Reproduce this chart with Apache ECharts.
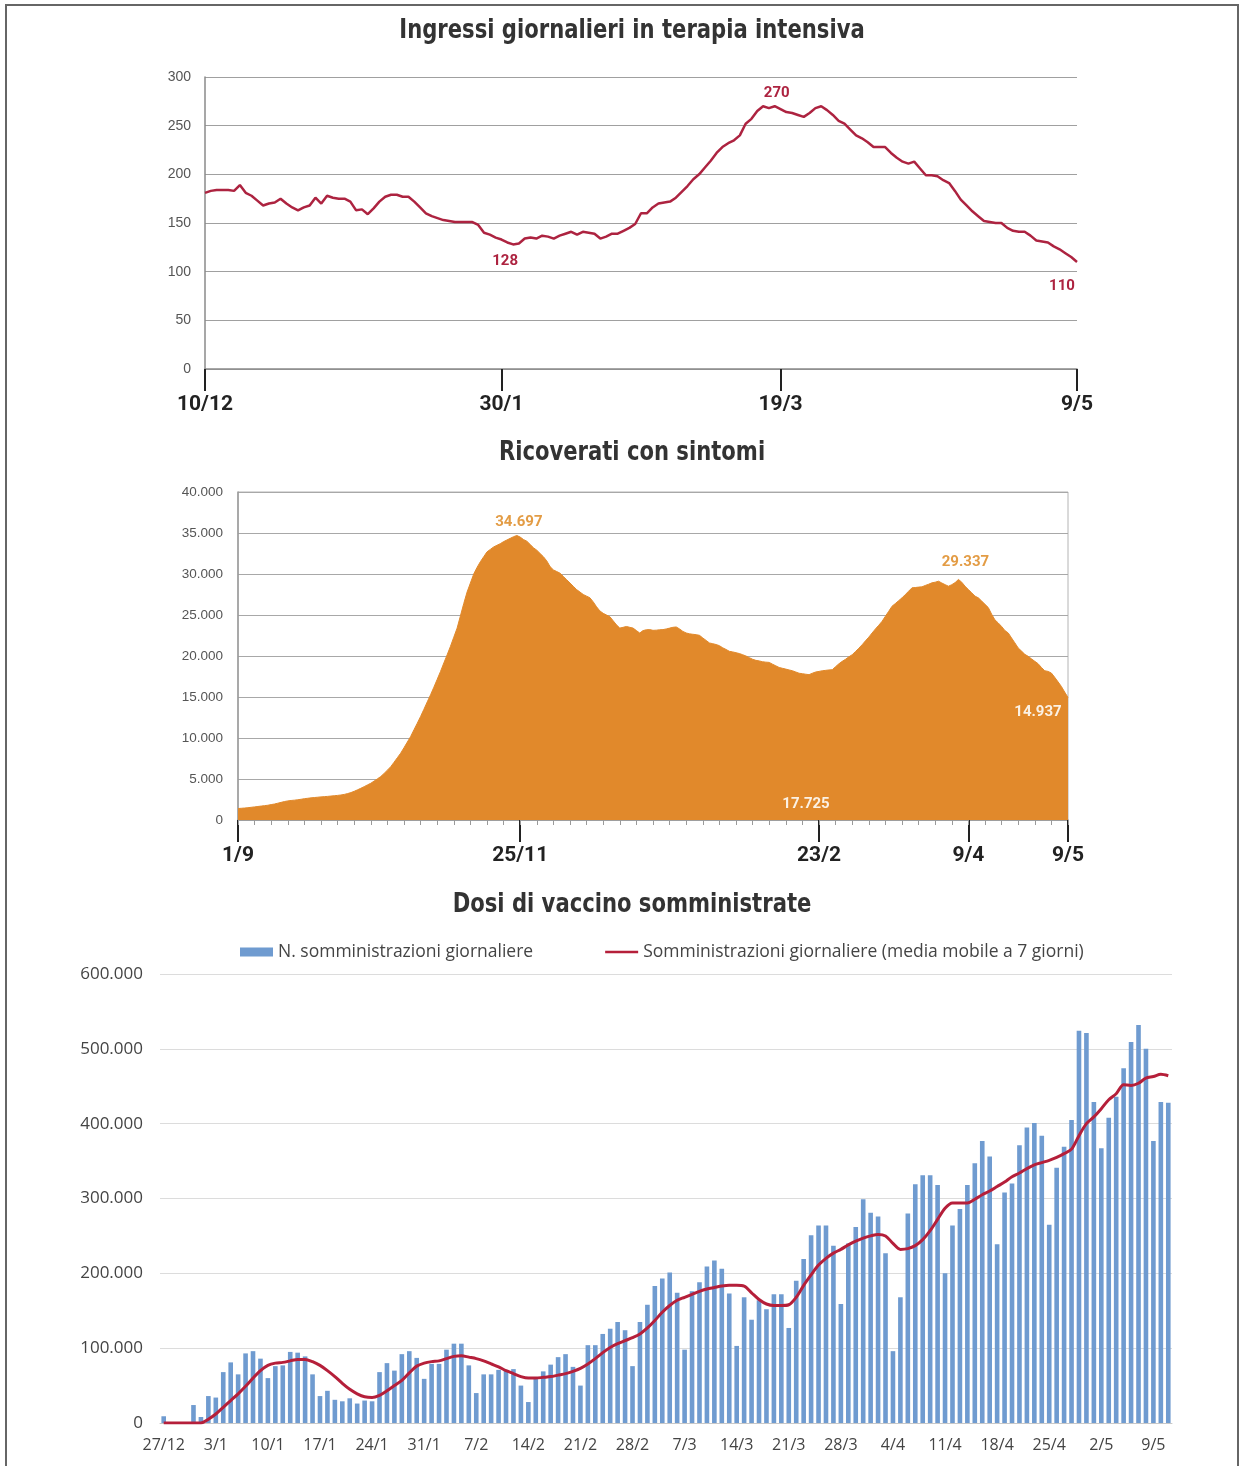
<!DOCTYPE html>
<html><head><meta charset="utf-8">
<script src="https://cdn.jsdelivr.net/npm/echarts@6/dist/echarts.min.js"></script>
<style>
html,body{margin:0;padding:0;background:#fff}
#wrap{position:relative;width:1243px;height:1466px;overflow:hidden}
#frame{position:absolute;left:5px;top:4px;width:1230px;height:1480px;border:2px solid #666}
#c{position:absolute;left:0;top:0;width:1243px;height:1466px}
</style>
</head><body><div id="wrap"><div id="frame"></div><div id="c"></div></div>
<script>
// ---------- Data: Ingressi giornalieri in terapia intensiva (10/12 -> 9/5)
const icuValues = [181,183,184,184,184,183,189,181,178,173,
168,170,171,175,170,166,163,166,168,176,
170,178,176,175,175,172,163,164,159,165,
172,177,179,179,177,177,172,166,160,157,
155,153,152,151,151,151,151,148,140,138,
135,133,130,128,129,134,135,134,137,136,
134,137,139,141,138,141,140,139,134,136,
139,139,142,145,149,160,160,166,170,171,
172,176,182,188,195,200,207,214,222,228,
232,235,240,252,257,265,270,268,270,267,
264,263,261,259,263,268,270,266,261,255,
252,246,240,237,233,228,228,228,222,217,
213,211,213,206,199,199,198,194,191,183,
174,168,162,157,152,151,150,150,145,142,
141,141,137,132,131,130,126,123,119,115,110];
const icuTicks = ['10/12','30/1','19/3','9/5'];
const icuNotes = ['1/2','18/3','9/5'];

// ---------- Data: Ricoverati con sintomi (1/9 -> 9/5)
const hospValues = [1400,1430,1460,1500,1550,1600,1650,1700,1750,1800,
1880,1950,2050,2150,2250,2330,2380,2420,2470,2530,
2600,2650,2700,2740,2780,2820,2850,2880,2920,2960,
3000,3050,3120,3220,3340,3500,3680,3870,4070,4280,
4480,4750,5020,5300,5680,6080,6500,7040,7600,8150,
8820,9500,10180,11000,11800,12630,13500,14400,15270,16200,
17150,18120,19150,20150,21180,22300,23400,24900,26400,27800,
28900,30000,30800,31500,32100,32700,33000,33300,33500,33700,
33950,34150,34350,34550,34697,34500,34200,34000,33600,33200,
32900,32500,32100,31600,30900,30500,30300,30100,29700,29300,
28900,28500,28100,27800,27500,27300,27100,26600,26000,25500,
25200,25000,24800,24300,23800,23400,23500,23600,23500,23400,
23100,22800,23100,23200,23220,23130,23150,23200,23220,23300,
23400,23500,23540,23300,23000,22810,22700,22650,22600,22520,
22200,21900,21590,21500,21400,21260,21000,20800,20570,20500,
20400,20300,20160,20000,19800,19600,19470,19400,19300,19250,
19220,19000,18800,18600,18500,18400,18300,18200,18050,17900,
17840,17780,17725,17900,18050,18120,18200,18250,18300,18330,
18700,19050,19350,19600,19900,20160,20550,20950,21380,21850,
22300,22810,23300,23750,24230,24850,25450,26070,26400,26750,
27090,27500,27900,28310,28350,28400,28430,28600,28750,28920,
29000,29120,28900,28700,28510,28700,28950,29337,29000,28500,
28100,27700,27300,27090,26700,26300,25900,25100,24400,24030,
23600,23100,22810,22200,21600,20980,20600,20200,19960,19650,
19350,19060,18600,18200,18120,17920,17400,16850,16290,15600,
14937];
const hospTicks = ['1/9','25/11','23/2','9/4','9/5'];
const hospNotesTop = ['24/11','6/4'];
const hospNotesIn = ['20/2','9/5'];

// ---------- Data: Dosi di vaccino somministrate (27/12 -> 11/5)
const dosesDaily = [9000,0,0,0,24000,8000,36000,34000,68000,81000,
65000,93000,96000,86000,60000,76000,77000,95000,94000,89000,
65000,36000,43000,31000,29000,33000,26000,30000,29000,68000,
80000,70000,92000,96000,87000,59000,79000,79000,98000,106000,
106000,77000,40000,65000,65000,71000,71000,72000,50000,28000,
59000,69000,78000,88000,92000,75000,50000,104000,104000,119000,
126000,135000,124000,76000,135000,158000,183000,193000,201000,174000,
98000,176000,188000,209000,217000,206000,173000,103000,168000,138000,
164000,152000,172000,172000,127000,190000,219000,251000,264000,264000,
237000,159000,240000,262000,299000,281000,276000,227000,96000,168000,
280000,319000,331000,331000,318000,200000,264000,286000,318000,347000,
377000,356000,239000,308000,320000,371000,395000,401000,384000,265000,
341000,369000,405000,524000,521000,429000,367000,408000,436000,474000,
509000,532000,500000,377000,429000,428000];
const dosesAvg = [0,0,0,0,0,0,5000,12000,21000,30000,
39000,49000,60000,70000,77000,80000,81000,83000,85000,85000,
82000,77000,70000,62000,53000,45000,39000,35000,34000,37000,
43000,50000,57000,67000,76000,80000,82000,83000,86000,89000,
90000,88000,86000,83000,79000,75000,70000,66000,62000,60000,
60000,61000,62000,64000,66000,69000,73000,79000,86000,94000,
101000,106000,110000,114000,119000,127000,137000,148000,157000,164000,
168000,172000,176000,179000,181000,183000,184000,184000,183000,174000,
165000,159000,157000,157000,158000,168000,184000,198000,211000,220000,
227000,232000,238000,243000,247000,250000,252000,250000,240000,232000,
233000,237000,245000,257000,272000,287000,294000,294000,294000,299000,
305000,310000,316000,322000,329000,334000,340000,345000,348000,351000,
355000,360000,366000,384000,400000,409000,420000,432000,440000,452000,
451000,454000,461000,463000,466000,464000];
const dosesTickEvery = 7;

const titles = ['Ingressi giornalieri in terapia intensiva', 'Ricoverati con sintomi', 'Dosi di vaccino somministrate'];
const legendNames = ['N. somministrazioni giornaliere', 'Somministrazioni giornaliere (media mobile a 7 giorni)'];

// ---------- helpers
function dayLabels(y, m, d, n) {
  const out = [];
  for (let i = 0; i < n; i++) {
    const dt = new Date(Date.UTC(y, m - 1, d + i));
    out.push(dt.getUTCDate() + '/' + (dt.getUTCMonth() + 1));
  }
  return out;
}
const itNum = v => String(v).replace(/\B(?=(\d{3})+(?!\d))/g, '.');

const icuDates = dayLabels(2020, 12, 10, icuValues.length);
const hospDates = dayLabels(2020, 9, 1, hospValues.length);
const dosesDates = dayLabels(2020, 12, 27, dosesDaily.length);

const TITLE_FONT = "bold 27px 'Liberation Sans Narrow','DejaVu Sans Condensed',sans-serif";
const BOLD_TICK = { fontSize: 21, fontWeight: 'bold', color: '#222', fontFamily: 'Roboto' };

function note(dates, values, date, label) {
  const i = dates.indexOf(date);
  return { coord: [dates[i], values[i]], value: values[i], label: label };
}
function titleText(text, y) {
  return { type: 'text', x: 632, y: y, scaleX: 0.87, silent: true,
    style: { text: text, font: TITLE_FONT, fill: '#333', align: 'center', verticalAlign: 'middle' } };
}

const icuRed = '#ad2340';
const icuMarks = [
  note(icuDates, icuValues, icuNotes[0], { position: 'inside', offset: [-8, 17] }),
  note(icuDates, icuValues, icuNotes[1], { position: 'inside', offset: [2, -13] }),
  note(icuDates, icuValues, icuNotes[2], { position: 'inside', offset: [-15, 24] })
];
const hospMarks = [
  note(hospDates, hospValues, hospNotesTop[0], { position: 'inside', offset: [2, -13], color: '#e39c45' }),
  note(hospDates, hospValues, hospNotesTop[1], { position: 'inside', offset: [7, -17], color: '#e39c45' }),
  note(hospDates, hospValues, hospNotesIn[0], { position: 'inside', offset: [-3, 130], color: '#fbf1e4' }),
  note(hospDates, hospValues, hospNotesIn[1], { position: 'inside', offset: [-30, 15], color: '#fbf1e4' })
];

const chart = echarts.init(document.getElementById('c'), null, { renderer: 'canvas' });
chart.setOption({
  backgroundColor: 'transparent',
  animation: false,
  graphic: [titleText(titles[0], 31), titleText(titles[1], 453), titleText(titles[2], 905)],
  legend: {
    left: 240, top: 943, padding: 0, itemWidth: 33, itemHeight: 9, itemGap: 72,
    textStyle: { fontFamily: 'Open Sans', fontSize: 17.5, color: '#444' },
    data: [
      { name: legendNames[0], icon: 'rect' },
      { name: legendNames[1], icon: 'path://M0,0 L100,0 L100,7 L0,7 Z', itemStyle: { color: '#b51f3a' } }
    ]
  },
  grid: [
    { left: 205, width: 872, top: 77, height: 292 },
    { left: 238, width: 830, top: 492, height: 328, show: true, borderColor: '#b4b4b4', borderWidth: 1 },
    { left: 160, width: 1012, top: 974, height: 449 }
  ],
  xAxis: [
    { gridIndex: 0, type: 'category', data: icuDates, boundaryGap: false,
      axisLine: { lineStyle: { color: '#8a8a8a', width: 1.5 } },
      axisTick: { interval: (i, v) => icuTicks.includes(v), length: 22, lineStyle: { color: '#222', width: 2 } },
      axisLabel: Object.assign({ interval: (i, v) => icuTicks.includes(v), margin: 25 }, BOLD_TICK),
      splitLine: { show: false } },
    { gridIndex: 1, type: 'category', data: hospDates, boundaryGap: false,
      axisLine: { lineStyle: { color: '#9a9a9a', width: 1.5 } },
      axisTick: { interval: (i, v) => hospTicks.includes(v), length: 22, lineStyle: { color: '#222', width: 2 } },
      axisLabel: Object.assign({ interval: (i, v) => hospTicks.includes(v), margin: 25 }, BOLD_TICK),
      splitLine: { show: false } },
    { gridIndex: 1, type: 'category', data: hospDates, boundaryGap: false, position: 'bottom',
      axisLine: { show: false },
      axisTick: { interval: 4, length: 5, lineStyle: { color: '#9a9a9a', width: 1 } },
      axisLabel: { show: false }, splitLine: { show: false } },
    { gridIndex: 2, type: 'category', data: dosesDates, boundaryGap: true,
      axisLine: { lineStyle: { color: '#c8c8c8', width: 1 } },
      axisTick: { show: false },
      axisLabel: { interval: dosesTickEvery - 1, margin: 14, fontFamily: 'Open Sans', fontSize: 16, color: '#444' },
      splitLine: { show: false } }
  ],
  yAxis: [
    { gridIndex: 0, type: 'value', min: 0, max: 300, interval: 50,
      axisLine: { show: true, lineStyle: { color: '#8a8a8a', width: 1.5 } }, axisTick: { show: false },
      axisLabel: { margin: 14, fontFamily: 'Liberation Sans', fontSize: 14, color: '#555' },
      splitLine: { lineStyle: { color: '#a0a0a0', width: 1.2 } } },
    { gridIndex: 1, type: 'value', min: 0, max: 40000, interval: 5000,
      axisLine: { show: true, lineStyle: { color: '#9a9a9a', width: 1.5 } }, axisTick: { show: false },
      axisLabel: { margin: 15, fontFamily: 'Liberation Sans', fontSize: 13.5, color: '#555', formatter: itNum },
      splitLine: { lineStyle: { color: '#a8a8a8', width: 1.2 } } },
    { gridIndex: 2, type: 'value', min: 0, max: 600000, interval: 100000,
      axisLine: { show: false }, axisTick: { show: false },
      axisLabel: { margin: 17, fontFamily: 'Open Sans', fontSize: 17, color: '#444', formatter: itNum },
      splitLine: { lineStyle: { color: '#dcdcdc', width: 1 } } }
  ],
  series: [
    { type: 'line', xAxisIndex: 0, yAxisIndex: 0, data: icuValues, symbol: 'none',
      lineStyle: { color: icuRed, width: 2.5 }, itemStyle: { color: icuRed },
      markPoint: { symbol: 'circle', symbolSize: 1, itemStyle: { color: 'rgba(0,0,0,0)' },
        label: { fontFamily: 'Roboto', fontWeight: 'bold', fontSize: 15, color: icuRed, formatter: p => itNum(p.value) },
        data: icuMarks } },
    { type: 'line', xAxisIndex: 1, yAxisIndex: 1, data: hospValues, symbol: 'none',
      lineStyle: { color: '#e1892b', width: 1 }, itemStyle: { color: '#e1892b' },
      areaStyle: { color: '#e1892b', opacity: 1 },
      markPoint: { symbol: 'circle', symbolSize: 1, itemStyle: { color: 'rgba(0,0,0,0)' },
        label: { fontFamily: 'Roboto', fontWeight: 'bold', fontSize: 15, formatter: p => itNum(p.value) },
        data: hospMarks } },
    { name: legendNames[0], type: 'bar', xAxisIndex: 3, yAxisIndex: 2,
      data: dosesDaily, barWidth: '62%', itemStyle: { color: '#6f9bd0' } },
    { name: legendNames[1], type: 'line', xAxisIndex: 3, yAxisIndex: 2,
      data: dosesAvg, symbol: 'none', smooth: 0.3,
      lineStyle: { color: '#b51f3a', width: 3 }, itemStyle: { color: '#b51f3a' } }
  ]
});
</script>
</body></html>
